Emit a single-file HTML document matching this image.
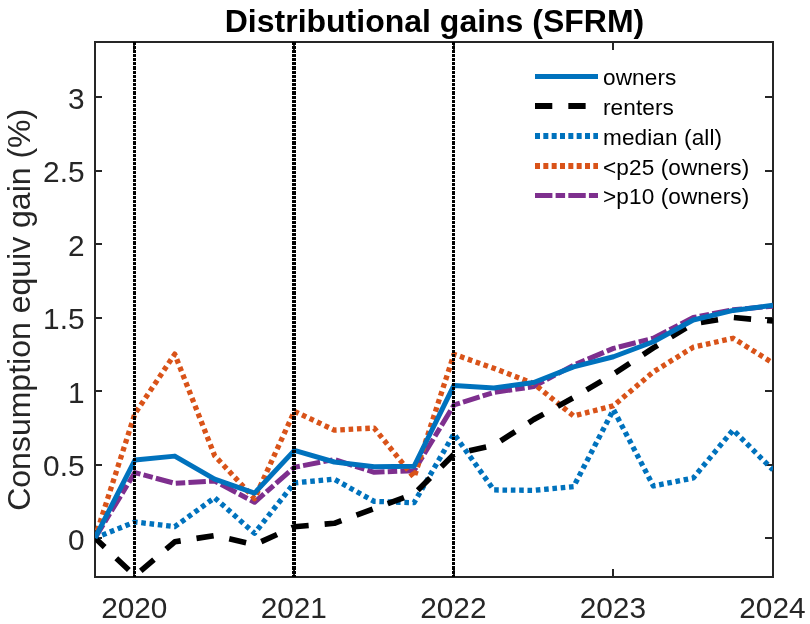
<!DOCTYPE html>
<html><head><meta charset="utf-8"><title>Distributional gains (SFRM)</title>
<style>html,body{margin:0;padding:0;background:#fff}svg{display:block;will-change:transform}</style></head>
<body>
<svg width="810" height="624" viewBox="0 0 810 624">
<rect width="810" height="624" fill="#fff"/>
<defs><clipPath id="c"><rect x="95" y="42" width="678" height="535"/></clipPath></defs>
<rect x="95" y="42" width="678" height="535" fill="none" stroke="#262626" stroke-width="2"/>
<path d="M134 577 v-8 M134 42 v8 M294 577 v-8 M294 42 v8 M454 577 v-8 M454 42 v8 M613 577 v-8 M613 42 v8 M95 538.00 h7 M773 538.00 h-8 M95 464.50 h7 M773 464.50 h-8 M95 391.00 h7 M773 391.00 h-8 M95 317.50 h7 M773 317.50 h-8 M95 244.00 h7 M773 244.00 h-8 M95 170.50 h7 M773 170.50 h-8 M95 97.00 h7 M773 97.00 h-8" stroke="#262626" stroke-width="2" fill="none" shape-rendering="crispEdges"/>
<g clip-path="url(#c)" fill="none" stroke-linejoin="round">
<polyline points="95.00,538.00 134.88,521.98 174.76,526.68 214.65,497.72 254.53,533.30 294.41,482.88 334.29,479.20 374.18,501.40 414.06,502.72 453.94,433.92 493.82,489.93 533.71,490.37 573.59,486.70 613.47,409.67 653.35,485.96 693.24,478.02 733.12,429.95 773.00,469.94" stroke="#0072BD" stroke-width="5.3" stroke-dasharray="4.6 3.733" stroke-dashoffset="0.6"/>
<polyline points="95.00,538.00 134.88,472.58 174.76,483.32 214.65,480.96 254.53,502.28 294.41,467.29 334.29,459.50 374.18,472.29 414.06,470.67 453.94,404.97 493.82,392.47 533.71,386.59 573.59,365.13 613.47,348.37 653.35,338.23 693.24,317.50 733.12,309.71 773.00,306.18" stroke="#7E2F8E" stroke-width="5" stroke-dasharray="17.4 3.2 9.5 3.233" stroke-dashoffset="1.7"/>
<polyline points="95.00,538.00 134.88,413.79 174.76,354.10 214.65,455.68 254.53,498.60 294.41,411.29 334.29,430.10 374.18,428.04 414.06,477.44 453.94,354.25 493.82,368.22 533.71,383.65 573.59,415.99 613.47,405.70 653.35,371.89 693.24,347.19 733.12,338.23 773.00,363.07" stroke="#D95319" stroke-width="5.3" stroke-dasharray="4.6 3.733" stroke-dashoffset="0.6"/>
<polyline points="95.00,538.00 134.88,575.78 174.76,541.82 214.65,535.50 254.53,544.62 294.41,526.68 334.29,523.30 374.18,508.60 414.06,493.90 453.94,454.21 493.82,445.39 533.71,419.52 573.59,397.62 613.47,374.10 653.35,347.93 693.24,323.67 733.12,317.50 773.00,321.03" stroke="#000" stroke-width="5.6" stroke-dasharray="17.3 16.033" stroke-dashoffset="4"/>
<polyline points="95.00,538.00 134.88,460.09 174.76,456.12 214.65,479.20 254.53,493.17 294.41,450.39 334.29,462.00 374.18,466.70 414.06,466.26 453.94,385.41 493.82,388.06 533.71,382.47 573.59,366.89 613.47,356.75 653.35,341.75 693.24,320.00 733.12,310.44 773.00,305.30" stroke="#0072BD" stroke-width="5"/>
<line x1="134.5" y1="42" x2="134.5" y2="577" stroke="#000" stroke-width="3" stroke-dasharray="3.1667 1" stroke-dashoffset="0.55" shape-rendering="crispEdges"/>
<line x1="294" y1="42" x2="294" y2="577" stroke="#000" stroke-width="4" stroke-dasharray="3.1667 1" stroke-dashoffset="0.55" shape-rendering="crispEdges"/>
<line x1="453.5" y1="42" x2="453.5" y2="577" stroke="#000" stroke-width="3" stroke-dasharray="3.1667 1" stroke-dashoffset="0.55" shape-rendering="crispEdges"/>
</g>
<g fill="none">
<line x1="535" x2="598" y1="76.5" y2="76.5" stroke="#0072BD" stroke-width="5"/>
<line x1="535" x2="598" y1="106" y2="106" stroke="#000" stroke-width="6" stroke-dasharray="17.3 16.033"/>
<line x1="535" x2="598" y1="136" y2="136" stroke="#0072BD" stroke-width="6" stroke-dasharray="5 3.333"/>
<line x1="535" x2="598" y1="166" y2="166" stroke="#D95319" stroke-width="6" stroke-dasharray="5 3.333"/>
<line x1="535" x2="598" y1="195.5" y2="195.5" stroke="#7E2F8E" stroke-width="5" stroke-dasharray="17.4 3.2 9.5 3.233"/>
</g>
<g font-family="Liberation Sans, Arial, Helvetica, sans-serif" font-size="22.6" letter-spacing="0.1" fill="#000">
<text x="603" y="85.3">owners</text>
<text x="603" y="114.8">renters</text>
<text x="603" y="144.8">median (all)</text>
<text x="603" y="174.8">&lt;p25 (owners)</text>
<text x="603" y="204.3">&gt;p10 (owners)</text>
</g>
<g font-family="Liberation Sans, Arial, Helvetica, sans-serif" font-size="29.8" fill="#262626">
<text x="134.28" y="617.5" text-anchor="middle">2020</text>
<text x="293.81" y="617.5" text-anchor="middle">2021</text>
<text x="453.34" y="617.5" text-anchor="middle">2022</text>
<text x="612.87" y="617.5" text-anchor="middle">2023</text>
<text x="772.40" y="617.5" text-anchor="middle">2024</text>
<text x="84.5" y="549.80" text-anchor="end">0</text>
<text x="84.5" y="476.30" text-anchor="end">0.5</text>
<text x="84.5" y="402.80" text-anchor="end">1</text>
<text x="84.5" y="329.30" text-anchor="end">1.5</text>
<text x="84.5" y="255.80" text-anchor="end">2</text>
<text x="84.5" y="182.30" text-anchor="end">2.5</text>
<text x="84.5" y="108.80" text-anchor="end">3</text>
</g>
<text x="434.5" y="31.8" text-anchor="middle" font-family="Liberation Sans, Arial, Helvetica, sans-serif" font-size="32" font-weight="bold" fill="#000">Distributional gains (SFRM)</text>
<text transform="translate(29.6,309.8) rotate(-90)" text-anchor="middle" font-family="Liberation Sans, Arial, Helvetica, sans-serif" font-size="32" fill="#262626">Consumption equiv gain (%)</text>
</svg>
</body></html>
